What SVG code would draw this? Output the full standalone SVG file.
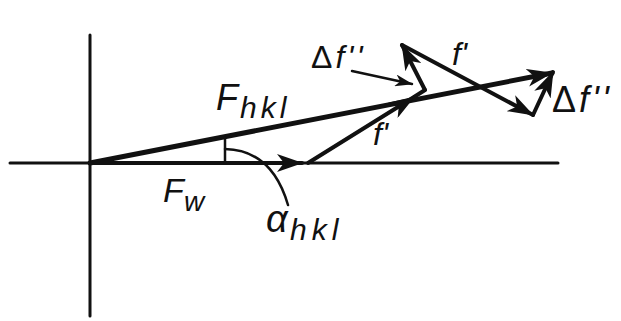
<svg xmlns="http://www.w3.org/2000/svg" width="621" height="321" viewBox="0 0 621 321">
<style>
.ax{stroke:#111;stroke-width:3;fill:none;stroke-linecap:round}
.vec{stroke:#111;fill:none;stroke-linecap:round;stroke-linejoin:round}
.lbl{font-family:"Liberation Sans","DejaVu Sans",sans-serif;font-style:italic;fill:#111}
.up{font-style:normal}
</style>
<defs>
<marker id="ah" viewBox="0 0 26 18" refX="25" refY="9" markerWidth="26" markerHeight="18" markerUnits="userSpaceOnUse" orient="auto">
<path d="M0,0 L26,9 L0,18 L7,9 Z" fill="#111"/>
</marker>
<marker id="ahs" viewBox="0 0 18 12" refX="17" refY="6" markerWidth="18" markerHeight="12" markerUnits="userSpaceOnUse" orient="auto">
<path d="M0,0 L18,6 L0,12 L5,6 Z" fill="#111"/>
</marker>
</defs>
<g id="axes">
<line class="ax" x1="90" y1="35" x2="90" y2="316"/>
<line class="ax" x1="10" y1="163" x2="558" y2="163"/>
</g>
<g id="connectors">
<line id="Fhkl" class="vec" x1="90" y1="163" x2="552" y2="73" stroke-width="5" marker-end="url(#ah)"/>
<line id="Fw" class="vec" x1="90" y1="163" x2="302" y2="163" stroke-width="4" marker-end="url(#ah)"/>
<path id="fp1" class="vec" d="M308,163 L414,97 L425,90" stroke-width="4" marker-mid="url(#ah)"/>
<line id="df1" class="vec" x1="425" y1="90" x2="402" y2="45" stroke-width="4" marker-end="url(#ah)"/>
<line id="fp2" class="vec" x1="402" y1="45" x2="533" y2="115" stroke-width="4" marker-end="url(#ah)"/>
<line id="df2" class="vec" x1="533" y1="115" x2="553" y2="72" stroke-width="4" marker-end="url(#ah)"/>
<line id="ptr" class="vec" x1="352" y1="71" x2="412" y2="84" stroke-width="2.5" marker-end="url(#ahs)"/>
<line id="perp" class="vec" x1="225" y1="137" x2="225" y2="163" stroke-width="2.5"/>
<path id="arc" class="vec" d="M225,149 Q272,150 288,205" stroke-width="2.5"/>
</g>
<g id="label-Fhkl">
<text class="lbl" x="216" y="110" font-size="36">F</text>
<text class="lbl" x="240" y="118" font-size="30" letter-spacing="4">hkl</text>
</g>
<g id="label-Fw">
<text class="lbl" x="163" y="202" font-size="34">F</text>
<text class="lbl" x="184" y="211" font-size="28">w</text>
</g>
<g id="label-alpha">
<text class="lbl" x="266" y="232" font-size="38">α</text>
<text class="lbl" x="290" y="240" font-size="30" letter-spacing="5">hkl</text>
</g>
<g id="label-df1">
<text class="lbl" x="311" y="68" font-size="32" letter-spacing="3"><tspan class="up">Δ</tspan>f''</text>
</g>
<g id="label-fp1">
<text class="lbl" x="373" y="145" font-size="32">f'</text>
</g>
<g id="label-fp2">
<text class="lbl" x="452" y="65" font-size="32">f'</text>
</g>
<g id="label-df2">
<text class="lbl" x="552" y="112" font-size="36" letter-spacing="3"><tspan class="up">Δ</tspan>f''</text>
</g>
</svg>
